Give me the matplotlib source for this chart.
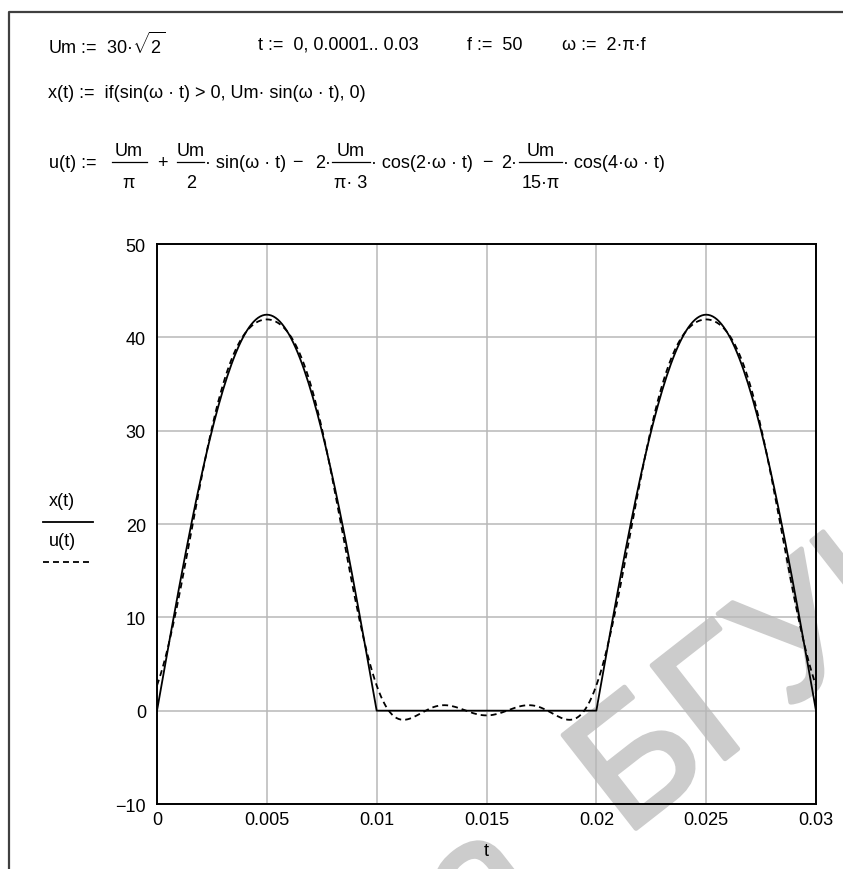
import numpy as np
import matplotlib.pyplot as plt
import matplotlib.patheffects as pe
from matplotlib.lines import Line2D

# ── Mathcad worksheet parameters ─────────────────────────────────────────
Um = 30 * np.sqrt(2)       # amplitude
f = 50                     # frequency (Hz)
t_start, t_step, t_stop = 0.0, 0.0001, 0.03

x_ticks = [0, 0.005, 0.01, 0.015, 0.02, 0.025, 0.03]
x_tick_labels = ["0", "0.005", "0.01", "0.015", "0.02", "0.025", "0.03"]
y_ticks = [-10, 0, 10, 20, 30, 40, 50]
y_tick_labels = ["\u221210", "0", "10", "20", "30", "40", "50"]

# ── Half-wave rectified sine and its truncated Fourier series ────────────
w = 2 * np.pi * f
t = np.arange(t_start, t_stop + t_step / 2, t_step)
x = np.where(np.sin(w * t) > 0, Um * np.sin(w * t), 0.0)
u = (Um / np.pi + Um / 2 * np.sin(w * t)
     - 2 * Um / (np.pi * 3) * np.cos(2 * w * t)
     - 2 * Um / (15 * np.pi) * np.cos(4 * w * t))

plt.rcParams['font.family'] = ['Liberation Sans', 'DejaVu Sans']
plt.rcParams['mathtext.fontset'] = 'custom'
plt.rcParams['mathtext.rm'] = 'Liberation Sans'
plt.rcParams['lines.scale_dashes'] = False

W, H = 843, 870
fig = plt.figure(figsize=(W / 100, H / 100), dpi=100)
FS = 13
DASH = (0, (4.3, 2.9))


def px(xp, yp):
    """pixel position (from top-left) -> figure fraction"""
    return xp / W, 1 - yp / H


def put(xp, yp, s, ha='left', **kw):
    fig.text(*px(xp, yp), s, ha=ha, va='center', fontsize=FS, **kw)


def frac(xc, x0, x1, num, den, y_bar=163):
    put(xc, y_bar - 12, num, ha='center')
    put(xc, y_bar + 20, den, ha='center')
    fig.add_artist(Line2D([x0 / W, x1 / W], [1 - y_bar / H] * 2,
                          color='black', lw=0.9))


# worksheet frame
fig.add_artist(Line2D([9 / W, 9 / W, 1], [0, 1 - 13 / H, 1 - 13 / H],
                      color='#404040', lw=1.6))

# ── Definitions above the plot ───────────────────────────────────────────
put(48, 45, "Um :=  30·$\\sqrt{2}$")
put(258, 45, "t :=  0, 0.0001.. 0.03")
put(467, 45, "f :=  50")
put(562, 45, "ω :=  2·π·f")
put(48, 94, "x(t) :=  if(sin(ω · t) > 0, Um· sin(ω · t), 0)")

put(49, 163, "u(t) :=")
frac(129, 112, 147, "Um", "π")
put(162, 163, "+", ha='center')
frac(191, 177, 204, "Um", "2")
put(205, 163, "· sin(ω · t)")
put(297, 163, "\u2212", ha='center')
put(315, 163, "2·")
frac(351, 332, 370, "Um", "π· 3")
put(371, 163, "· cos(2·ω · t)")
put(487, 163, "\u2212", ha='center')
put(501, 163, "2·")
frac(541, 519, 562, "Um", "15·π")
put(563, 163, "· cos(4·ω · t)")

# ── Plot ─────────────────────────────────────────────────────────────────
ax = fig.add_axes([157 / W, 1 - 805 / H, (816 - 157) / W, (805 - 245) / H])
ax.patch.set_visible(False)
ax.plot(t, x, color='black', lw=1.3, zorder=3)
ax.plot(t, u, color='black', lw=1.3, linestyle=DASH, zorder=3)

ax.set_xlim(0, 0.03)
ax.set_ylim(-10, 50)
ax.set_xticks(x_ticks, x_tick_labels)
ax.set_yticks(y_ticks, y_tick_labels)
ax.tick_params(length=0, labelsize=FS, pad=8)
ax.tick_params(axis='x', pad=5)
ax.grid(color='#b8b8b8', lw=1.1)
ax.set_axisbelow(True)
for sp in ax.spines.values():
    sp.set_linewidth(1.4)
ax.set_xlabel("t", fontsize=FS, labelpad=10)

# y-axis trace legend
put(62, 502, "x(t)", ha='center')
fig.add_artist(Line2D([43 / W, 93 / W], [1 - 523 / H] * 2, color='black', lw=1.3))
put(62, 542, "u(t)", ha='center')
fig.add_artist(Line2D([43 / W, 93 / W], [1 - 563 / H] * 2, color='black',
                      lw=1.3, linestyle=DASH))

# library watermark, drawn underneath the plot
wm_color = '#cccccc'
fig.text(*px(474, 956), "а  БГУИР", fontsize=124, color=wm_color,
         rotation=38, rotation_mode='anchor', ha='left', va='baseline',
         zorder=-1,
         path_effects=[pe.Stroke(linewidth=3.5, foreground=wm_color)])

plt.savefig('out.png', dpi=100)
